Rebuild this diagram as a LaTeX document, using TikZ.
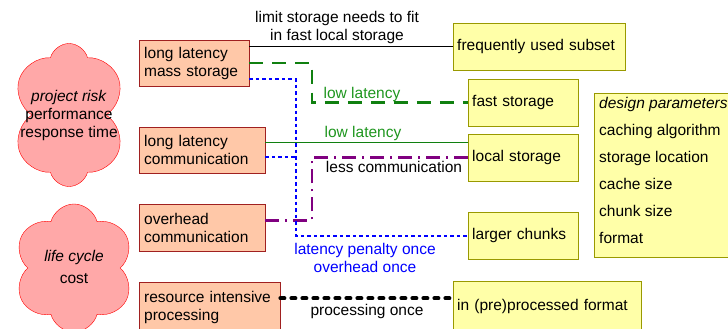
\documentclass[tikz,border=0pt]{standalone}
\usepackage{fontspec}
\setmainfont{Liberation Sans}
\usetikzlibrary{shapes.symbols, calc}
\definecolor{boxred}{RGB}{160,32,32}
\definecolor{boxorange}{RGB}{255,200,168}
\definecolor{boxolive}{RGB}{153,153,0}
\definecolor{boxyellow}{RGB}{255,255,168}
\definecolor{cloudpink}{RGB}{255,168,168}
\definecolor{latgreen}{RGB}{16,128,16}
\definecolor{lattext}{RGB}{30,150,30}
\definecolor{penblue}{RGB}{0,0,255}
\definecolor{compurple}{RGB}{128,0,128}
\newcommand{\lbl}{\fontsize{15.5}{18}\selectfont}
\tikzset{
    my-concern/.style={
        draw=boxred, fill=boxorange, anchor=north west, align=left,
        inner xsep=5pt, inner ysep=0pt, font=\lbl
    },
    my-solution/.style={
        draw=boxolive, fill=boxyellow, anchor=north west, align=left,
        inner xsep=4pt, inner ysep=0pt, font=\lbl
    },
    my-cloud/.style={
        cloud, cloud puffs=6, cloud puff arc=150, draw=red, fill=cloudpink,
        inner sep=0pt
    },
    my-text/.style={font=\lbl, align=center, inner sep=0pt},
}

\begin{document}
\begin{tikzpicture}[x=1pt, y=-1pt]

        \useasboundingbox (0,0) rectangle (728,329);
        \clip (0,0) rectangle (728,329);

        % QUALITY CLOUDS
        \node[my-cloud, minimum width=115pt, minimum height=143pt, shape border rotate=90] (RISK) at (69,115) {};
        \node[my-text] (RISKTXT) at (RISK.center) {\textit{project risk}\\performance\\response time};
        \node[my-cloud, minimum width=121pt, minimum height=128pt, shape border rotate=60] (LIFE) at (74,268) {};
        \node[my-text] (LIFETXT) at ($(LIFE.center)+(0,-1)$) {\textit{life cycle}\\[4pt]cost};

        % CONCERNS
        \node[my-concern, text width=100pt, minimum height=46pt] (MS) at (139,40)  {long latency\\mass storage};
        \node[my-concern, text width=116pt, minimum height=46pt] (LC) at (139,127) {long latency\\communication};
        \node[my-concern, text width=116pt, minimum height=47pt] (OC) at (139,204) {overhead\\communication};
        \node[my-concern, text width=131pt, minimum height=50pt] (RP) at (139,282) {resource intensive\\processing};

        % SOLUTIONS
        \node[my-solution, text width=164pt, minimum height=47pt] (FU)  at (453,23)  {frequently used subset};
        \node[my-solution, text width=102pt, minimum height=47pt] (FS)  at (468,79)  {fast storage};
        \node[my-solution, text width=102pt, minimum height=47pt] (LS)  at (468,134) {local storage};
        \node[my-solution, text width=102pt, minimum height=47pt] (LCH) at (468,212) {larger chunks};
        \node[my-solution, text width=180pt, minimum height=50pt] (PF)  at (453,281) {in (pre)processed format};

        % DESIGN PARAMETERS
        \node[my-solution, minimum width=142pt, minimum height=164pt] (DP) at (594,93) {};
        \node[my-text, anchor=north west, align=left] (DPTXT) at ($(DP.north west)+(5,4)$)
            {\textit{design parameters}\\[9pt]caching algorithm\\[9pt]storage location\\[9pt]cache size\\[9pt]chunk size\\[9pt]format};

        % BEND POINTS
        \coordinate[] (GREENX) at (312,0);
        \coordinate[] (BLUEX)  at (296,0);

        % CONNECTIONS
        \draw[black, line width=1pt] (MS.east |- FU.west) -- (FU.west);
        \draw[latgreen, line width=2.5pt, dash pattern=on 14pt off 9pt]
            (MS.east) -| (GREENX |- FS.west) -- (FS.west);
        \draw[latgreen, line width=1pt] ([yshift=8pt]LC.east) -- ([yshift=8pt]LC.east -| LS.west);
        \draw[compurple, line width=2.5pt, dash pattern=on 14pt off 6pt on 2pt off 6pt]
            ([yshift=7pt]OC.east) -| (GREENX |- LS.west) -- (LS.west);
        \draw[penblue, line width=2.2pt, dash pattern=on 3.5pt off 3pt]
            ([yshift=-16pt]MS.east) -| (BLUEX |- LCH.west) -- (LCH.west);
        \draw[penblue, line width=2.2pt, dash pattern=on 3.5pt off 3pt]
            ([yshift=-7pt]LC.east) -- ([yshift=-7pt]LC.east -| BLUEX);
        \draw[black, line width=4pt, line cap=round, dash pattern=on 4pt off 7pt]
            ([yshift=9pt]RP.east) -- ([yshift=9pt]RP.east -| PF.west);

        % CONNECTION LABELS
        \node[my-text]                 (LIMIT)   at (337,27)  {limit storage needs to fit\\in fast local storage};
        \node[my-text, text=lattext]   (LOWLAT1) at (362,94)  {low latency};
        \node[my-text, text=lattext]   (LOWLAT2) at (363,133) {low latency};
        \node[my-text]                 (LESS)    at (394,167) {less communication};
        \node[my-text, text=penblue]   (ONCE)    at (365,258) {latency penalty once\\overhead once};
        \node[my-text]                 (PROC)    at (367,311) {processing once};

    \end{tikzpicture}
\end{document}
